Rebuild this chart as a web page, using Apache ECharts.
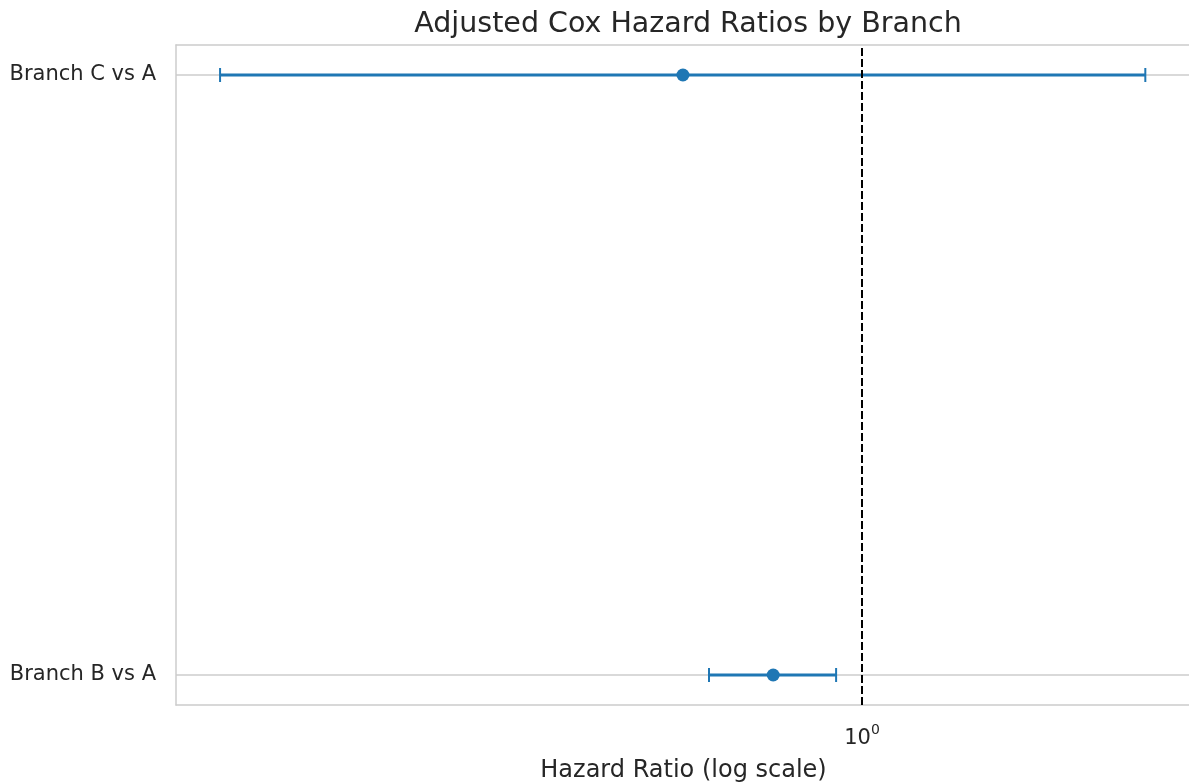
<!DOCTYPE html>
<html>
<head>
<meta charset="utf-8">
<script src="https://cdn.jsdelivr.net/npm/echarts@6/dist/echarts.min.js"></script>
<style>
  html, body { margin: 0; padding: 0; background: #fff; }
  #main { width: 1189px; height: 782px; }
</style>
</head>
<body>
<div id="main"></div>
<script>
  // data
  const branches = ['Branch B vs A', 'Branch C vs A'];
  const hazardRatios = [0.815, 0.662];
  const ciLower = [0.703, 0.228];
  const ciUpper = [0.942, 1.92];
  const xTicks = [1];
  const xRange = [0.206, 2.133];

  const blue = '#1f77b4';
  const textColor = '#262626';
  const gridColor = '#cccccc';

  const chart = echarts.init(document.getElementById('main'));

  const errData = branches.map((b, i) => [ciLower[i], ciUpper[i], i]);
  const pointData = branches.map((b, i) => [hazardRatios[i], i]);

  // spine (left / bottom / top) - right one falls off the canvas
  const spine = { show: true, onZero: false, lineStyle: { color: gridColor, width: 1.5 } };

  chart.setOption({
    animation: false,
    textStyle: { fontFamily: 'DejaVu Sans' },
    title: {
      text: 'Adjusted Cox Hazard Ratios by Branch',
      left: 683,
      textAlign: 'center',
      top: 5,
      textStyle: { fontSize: 28.5, fontWeight: 'normal', color: textColor, fontFamily: 'DejaVu Sans' }
    },
    grid: {
      left: 176, right: -2, top: 45, bottom: 77,
      outerBoundsMode: 'none',
      containLabel: false
    },
    xAxis: [
      {
        type: 'log',
        logBase: 10,
        min: xRange[0],
        max: xRange[1],
        name: 'Hazard Ratio (log scale)',
        nameLocation: 'middle',
        nameGap: 54,
        nameTextStyle: { fontSize: 24, color: textColor },
        axisLine: spine,
        axisTick: { show: false },
        splitLine: { show: false },
        axisLabel: {
          customValues: xTicks,
          margin: 18,
          fontSize: 21,
          color: textColor,
          formatter: () => '{n|10}{sup|0}',
          rich: {
            n: { fontSize: 21, color: textColor, verticalAlign: 'bottom' },
            sup: { fontSize: 14, color: textColor, verticalAlign: 'bottom', padding: [0, 0, 12, 0] }
          }
        }
      },
      {
        type: 'log',
        logBase: 10,
        position: 'top',
        min: xRange[0],
        max: xRange[1],
        axisLine: spine,
        axisTick: { show: false },
        axisLabel: { show: false },
        splitLine: { show: false }
      }
    ],
    yAxis: {
      type: 'value',
      min: -0.05,
      max: 1.05,
      axisLine: spine,
      axisTick: { show: false },
      splitLine: { show: false },
      axisLabel: {
        customValues: [0, 1],
        margin: 20,
        fontSize: 21,
        color: textColor,
        formatter: v => branches[Math.round(v)]
      }
    },
    series: [
      {
        type: 'line',
        data: [],
        z: 1,
        markLine: {
          silent: true,
          z: 1,
          symbol: 'none',
          label: { show: false },
          data: branches.map((b, i) => ({ yAxis: i, lineStyle: { color: gridColor, width: 1.5, type: 'solid' } }))
        }
      },
      {
        type: 'custom',
        z: 2,
        data: errData,
        renderItem: (params, api) => {
          const y = api.value(2);
          const p0 = api.coord([api.value(0), y]);
          const p1 = api.coord([api.value(1), y]);
          const cap = 7;
          return {
            type: 'group',
            children: [
              { type: 'line', shape: { x1: p0[0], y1: p0[1], x2: p1[0], y2: p1[1] }, style: { stroke: blue, lineWidth: 2.8 } },
              { type: 'line', shape: { x1: p0[0], y1: p0[1] - cap, x2: p0[0], y2: p0[1] + cap }, style: { stroke: blue, lineWidth: 2 } },
              { type: 'line', shape: { x1: p1[0], y1: p1[1] - cap, x2: p1[0], y2: p1[1] + cap }, style: { stroke: blue, lineWidth: 2 } }
            ]
          };
        }
      },
      {
        type: 'scatter',
        z: 3,
        data: pointData,
        symbol: 'circle',
        symbolSize: 13,
        itemStyle: { color: blue, opacity: 1 },
        markLine: {
          silent: true,
          z: 4,
          symbol: 'none',
          label: { show: false },
          data: [{ xAxis: 1, lineStyle: { color: '#000', width: 2, type: [8, 3], opacity: 1 } }]
        }
      }
    ]
  });
</script>
</body>
</html>
